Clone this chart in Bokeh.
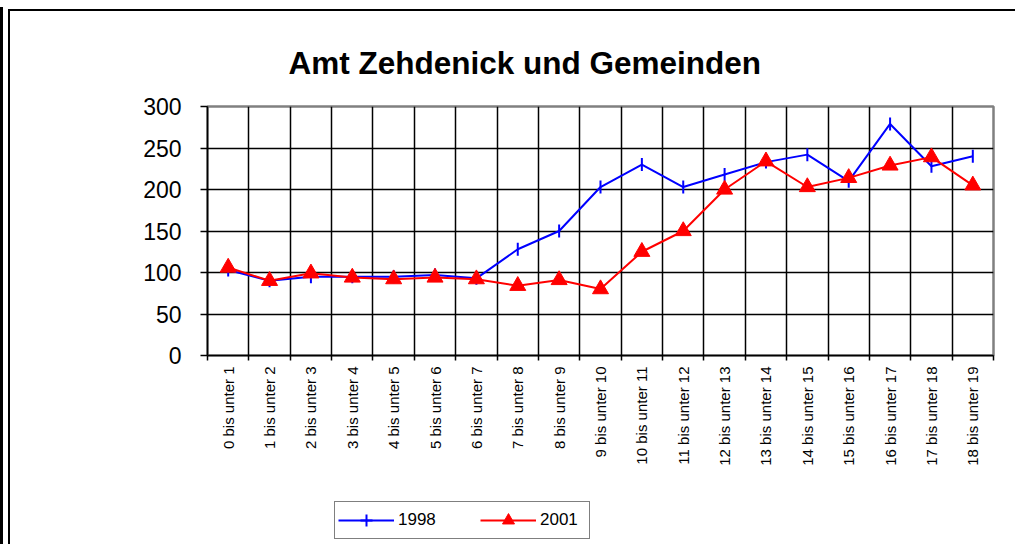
import math
from bokeh.plotting import figure
from bokeh.layouts import column
from bokeh.models import FixedTicker, Range1d, Legend, LegendItem, ColumnDataSource
from bokeh.embed import file_html
from bokeh.resources import INLINE

title_text = "Amt Zehdenick und Gemeinden"
categories = ["0 bis unter 1", "1 bis unter 2", "2 bis unter 3", "3 bis unter 4",
              "4 bis unter 5", "5 bis unter 6", "6 bis unter 7", "7 bis unter 8",
              "8 bis unter 9", "9 bis unter 10", "10 bis unter 11", "11 bis unter 12",
              "12 bis unter 13", "13 bis unter 14", "14 bis unter 15", "15 bis unter 16",
              "16 bis unter 17", "17 bis unter 18", "18 bis unter 19"]
values_1998 = [103, 90, 95, 95, 95, 97, 93, 128, 150, 203, 230, 203, 218, 233, 242, 210, 279, 228, 240]
values_2001 = [106, 90, 99, 94, 92, 94, 92, 84, 91, 80, 125, 150, 200, 234, 203, 214, 229, 239, 205]
y_ticks = [0, 50, 100, 150, 200, 250, 300]
series_names = ["1998", "2001"]

n = len(categories)
centers = [i + 0.5 for i in range(n)]
bounds = list(range(n + 1))
src = ColumnDataSource(dict(x=centers, a=values_1998, b=values_2001))

FONT = "Liberation Sans"
W = 1005

p = figure(width=W, height=470, x_range=Range1d(0, n), y_range=Range1d(y_ticks[0], y_ticks[-1]),
           output_backend="svg", toolbar_location=None,
           min_border_left=197, min_border_right=22, min_border_top=95, min_border_bottom=126)
p.background_fill_color = "white"
p.border_fill_color = "white"
p.outline_line_color = "#808080"
p.outline_line_width = 2.5

# Title
p.title.text = title_text
p.title.align = "left"
p.title.offset = 81
p.title.text_font = FONT
p.title.text_font_size = "31.5px"
p.title.text_font_style = "bold"
p.title.text_color = "black"
p.title.standoff = 51

# Grids (top and right edges are the grey plot-area border)
p.xgrid.ticker = FixedTicker(ticks=bounds[:-1])
p.ygrid.ticker = FixedTicker(ticks=y_ticks[:-1])
for g in (p.xgrid, p.ygrid):
    g.grid_line_color = "black"
    g.grid_line_width = 1.5

# X axis
xa = p.xaxis[0]
xa.ticker = FixedTicker(ticks=centers, minor_ticks=bounds)
xa.major_label_overrides = {c: lab for c, lab in zip(centers, categories)}
xa.major_label_orientation = math.pi / 2
xa.major_tick_out = 0
xa.major_tick_in = 0
xa.minor_tick_out = 5
xa.minor_tick_in = 0
xa.minor_tick_line_color = "black"
xa.minor_tick_line_width = 1.5
xa.axis_line_color = "black"
xa.axis_line_width = 1.5
xa.major_label_text_font = FONT
xa.major_label_text_font_size = "15px"
xa.major_label_text_color = "black"
xa.major_label_standoff = 6

# Y axis
ya = p.yaxis[0]
ya.ticker = FixedTicker(ticks=y_ticks)
ya.major_tick_out = 7
ya.major_tick_in = 0
ya.major_tick_line_color = "black"
ya.major_tick_line_width = 1.5
ya.minor_tick_out = 0
ya.minor_tick_in = 0
ya.axis_line_color = "black"
ya.axis_line_width = 1.5
ya.major_label_text_font = FONT
ya.major_label_text_font_size = "23px"
ya.major_label_text_color = "black"
ya.major_label_standoff = 19


def draw_series(fig, blue_marker, blue_angle):
    l1 = fig.line("x", "a", source=src, line_color="#0000FF", line_width=2)
    s1 = fig.scatter("x", "a", source=src, marker=blue_marker, angle=blue_angle, size=13,
                     line_color="#0000FF", line_width=2)
    l2 = fig.line("x", "b", source=src, line_color="#FF0000", line_width=2)
    s2 = fig.scatter("x", "b", source=src, marker="triangle", size=16,
                     line_color="#FF0000", fill_color="#FF0000")
    return l1, s1, l2, s2


draw_series(p, "dash", math.pi / 2)

# Legend strip (separate figure below the chart; series drawn outside its view)
pl = figure(width=W, height=533 - 470, x_range=Range1d(-3, -2), y_range=Range1d(0, 1),
            output_backend="svg", toolbar_location=None,
            x_axis_location=None, y_axis_location=None,
            min_border_left=0, min_border_right=0, min_border_top=0, min_border_bottom=0)
pl.grid.visible = False
pl.outline_line_color = None
pl.background_fill_color = "white"
pl.border_fill_color = "white"
l1, s1, l2, s2 = draw_series(pl, "cross", 0)

legend = Legend(items=[LegendItem(label=series_names[0], renderers=[l1, s1]),
                       LegendItem(label=series_names[1], renderers=[l2, s2])],
                orientation="horizontal", location=(127, 5))
legend.border_line_color = "black"
legend.border_line_width = 1.5
legend.background_fill_color = "white"
legend.background_fill_alpha = 1
legend.label_text_font = FONT
legend.label_text_font_size = "17px"
legend.label_text_color = "black"
legend.glyph_width = 56
legend.glyph_height = 30
legend.padding = 3
legend.spacing = 36
legend.label_standoff = 4
legend.label_width = 46
legend.margin = 0
pl.add_layout(legend, "center")

inner = column(p, pl, spacing=0,
               styles={"margin-left": "5px", "margin-top": "2px",
                       "border-left": "2px solid black", "border-top": "2px solid black"})
layout = column(inner, spacing=0,
                styles={"margin-top": "7px", "border-left": "3px solid black"})

open("out.html", "w").write(file_html(layout, INLINE))
